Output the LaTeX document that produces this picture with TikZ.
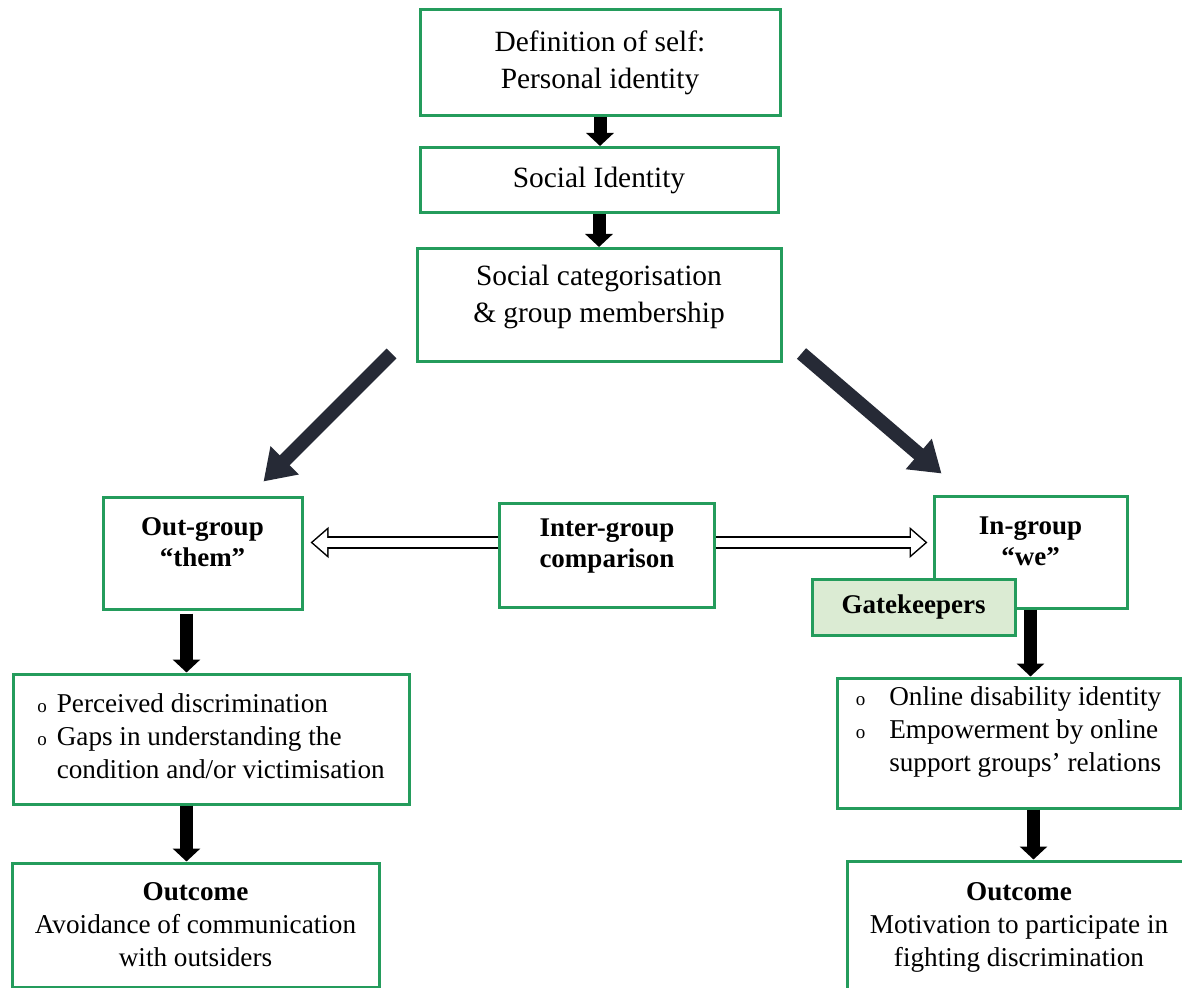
\documentclass[tikz,border=0pt]{standalone}
\usepackage{fontspec}
\setmainfont{Liberation Serif}
\usetikzlibrary{arrows.meta}
\definecolor{boxgreen}{RGB}{36,156,92}
\definecolor{gatefill}{RGB}{219,235,211}
\definecolor{slatearrow}{RGB}{38,42,54}
\newcommand{\toptxt}{\fontsize{14.7}{18.5}\selectfont}
\newcommand{\bodytxt}{\fontsize{13.6}{16.5}\selectfont}
\newcommand{\headtxt}{\fontsize{13.5}{15.5}\selectfont\bfseries}
\newcommand{\bul}{{\fontsize{9.5}{9.5}\selectfont o}}

\begin{document}
\begin{tikzpicture}[
  x=0.5pt, y=-0.5pt,
  box/.style={draw=boxgreen, line width=1.5pt, inner sep=0pt, align=center},
  boxtext/.style={align=center, inner sep=0pt},
  blackarrow/.style={-{Triangle[length=6.5pt, width=13.5pt]}, line width=6.5pt},
  diagarrow/.style={-{Triangle[length=15pt, width=19pt]}, line width=7pt, slatearrow},
  % hollow double arrow: black outline first, white inside on top
  cmparrow/.style={draw=white, line width=4.75pt, shorten >=#1+1.17pt,
    -{Triangle[length=7.08pt, width=11.8pt]},
    preaction={draw=black, line width=6.25pt, shorten >=#1,
      -{Triangle[length=9pt, width=15pt]}}}
]
\path[use as bounding box, fill=white] (0,0) rectangle (1182,988);

% Top chain
\node[box, font=\toptxt, minimum width=180pt, minimum height=53pt] (selfdef) at (600,63) {Definition of self:\\Personal identity};
\node[box, font=\toptxt, minimum width=179pt, minimum height=32.5pt] (socid) at (599,180) {Social Identity};
\node[box, minimum width=182pt, minimum height=56.5pt,
  label={[boxtext, font=\toptxt, yshift=4.25pt]center:{Social categorisation\\\& group membership}}] (socat) at (599,305) {};

% Middle row
\node[box, minimum width=99.5pt, minimum height=56pt,
  label={[boxtext, font=\headtxt, yshift=5.25pt]center:{Out-group\\“them”}}] (outgrp) at (202.5,553) {};
\node[box, minimum width=107.5pt, minimum height=52pt,
  label={[boxtext, font=\headtxt, yshift=4.5pt]center:{Inter-group\\comparison}}] (intergrp) at (607,555) {};
\node[box, minimum width=96.5pt, minimum height=56pt,
  label={[boxtext, font=\headtxt, yshift=5.5pt]center:{In-group\\“we”}}] (ingrp) at (1030.5,552) {};
\node[box, fill=gatefill, font=\headtxt, minimum width=101.5pt, minimum height=28pt] (gatekeep) at (913.5,607) {Gatekeepers};

% Lists
\node[box, font=\bodytxt, minimum width=198pt, minimum height=65pt] (outlist) at (211,739)
  {\begin{tabular}{@{}l@{\hspace{5pt}}l@{}}
   \bul & Perceived discrimination\\
   \bul & Gaps in understanding the\\
        & condition and/or victimisation
   \end{tabular}};
\node[box, minimum width=171.5pt, minimum height=65pt,
  label={[boxtext, font=\bodytxt, yshift=5.75pt]center:{\begin{tabular}{@{}l@{\hspace{12pt}}l@{}}
   \bul & Online disability identity\\
   \bul & Empowerment by online\\
        & support groups’ relations
   \end{tabular}}}] (inlist) at (1008.5,743) {};

% Outcomes
\node[box, font=\bodytxt, minimum width=183.5pt, minimum height=62pt] (outres) at (195.5,925)
  {\textbf{Outcome}\\Avoidance of communication\\with outsiders};
\node[box, font=\bodytxt, minimum width=172pt, minimum height=66pt] (inres) at (1019,927)
  {\textbf{Outcome}\\Motivation to participate in\\fighting discrimination};

% Arrows
\draw[blackarrow] (selfdef.south) -- (selfdef.south |- socid.north);
\draw[blackarrow] (socid.south) -- (socid.south |- socat.north);
\draw[diagarrow] ([xshift=-12pt,yshift=4.75pt]socat.south west) -- ([xshift=-20pt,yshift=7pt]outgrp.north east);
\draw[diagarrow] ([xshift=9.5pt,yshift=4.75pt]socat.south east) -- ([xshift=4.5pt,yshift=10.5pt]ingrp.north west);

\draw[cmparrow=3.5pt] ([yshift=6.25pt]intergrp.west) -- ([yshift=6.25pt]intergrp.west -| outgrp.east);
\draw[cmparrow=2.5pt] ([yshift=6.25pt]intergrp.east) -- ([yshift=6.25pt]intergrp.east -| ingrp.west);

\coordinate (ldrop) at ([xshift=-8pt,yshift=-1.5pt]outgrp.south);
\draw[blackarrow] (ldrop) -- (ldrop |- outlist.north);
\draw[blackarrow] (outlist.south -| ldrop) -- (outres.north -| ldrop);
\draw[blackarrow] (ingrp.south) -- (ingrp.south |- inlist.north);
\draw[blackarrow] ([xshift=1.5pt]inlist.south -| ingrp.south) -- ([xshift=1.5pt]inres.north -| ingrp.south);
\end{tikzpicture}
\end{document}
